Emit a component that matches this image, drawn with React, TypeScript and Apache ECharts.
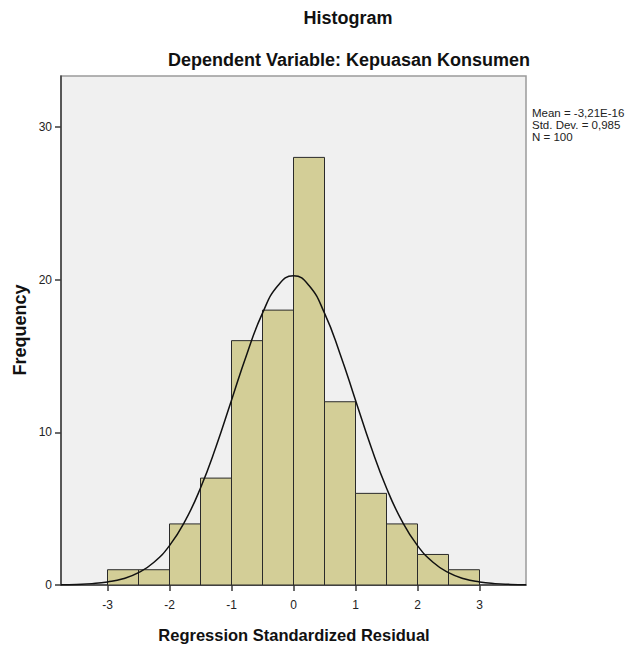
import React, { useEffect, useRef } from "react";
import * as echarts from "echarts";

const binStarts = [-3, -2.5, -2, -1.5, -1, -0.5, 0, 0.5, 1, 1.5, 2, 2.5];
const binWidth = 0.5;
const frequencies = [1, 1, 4, 7, 16, 18, 28, 12, 6, 4, 2, 1];

const curveX = [-3.75, -3.5, -3.25, -3, -2.75, -2.5, -2.25, -2, -1.75, -1.5, -1.25, -1, -0.75, -0.5, -0.25, 0, 0.25, 0.5, 0.75, 1, 1.25, 1.5, 1.75, 2, 2.25, 2.5, 2.75, 3, 3.25, 3.5, 3.75];
const curveY = [0.01, 0.04, 0.09, 0.2, 0.41, 0.81, 1.49, 2.58, 4.18, 6.35, 9.05, 12.1, 15.15, 17.8, 19.61, 20.25, 19.61, 17.8, 15.15, 12.1, 9.05, 6.35, 4.18, 2.58, 1.49, 0.81, 0.41, 0.2, 0.09, 0.04, 0.01];

const xTicks = [-3, -2, -1, 0, 1, 2, 3];
const yTicks = [0, 10, 20, 30];

const statsLines = ["Mean = -3,21E-16", "Std. Dev. = 0,985", "N = 100"];

export default function App() {
  const ref = useRef<HTMLDivElement>(null);
  useEffect(() => {
    if (!ref.current) return;
    const chart = echarts.init(ref.current, null, { renderer: "svg" });
    const font = "'Liberation Sans', Arial, sans-serif";
    chart.setOption({
      animation: false,
      backgroundColor: "#ffffff",
      grid: {
        left: 61,
        top: 76,
        width: 465,
        height: 509,
        show: true,
        backgroundColor: "#f0f0f0",
        borderColor: "#9a9a9a",
        borderWidth: 1.5,
      },
      xAxis: {
        type: "value",
        min: -3.75,
        max: 3.75,
        splitLine: { show: false },
        axisLine: { show: true, onZero: false, lineStyle: { color: "#3a3a3a", width: 1.5 } },
        axisTick: { show: true, length: 6, customValues: xTicks, lineStyle: { color: "#3a3a3a", width: 1.5 } },
        axisLabel: { customValues: xTicks, color: "#222", fontSize: 12, fontFamily: font, margin: 14 },
      },
      yAxis: {
        type: "value",
        min: 0,
        max: 33.33,
        splitLine: { show: false },
        axisLine: { show: true, onZero: false, lineStyle: { color: "#3a3a3a", width: 1.5 } },
        axisTick: { show: true, length: 6, customValues: yTicks, lineStyle: { color: "#3a3a3a", width: 1.5 } },
        axisLabel: { customValues: yTicks, color: "#222", fontSize: 12, fontFamily: font, margin: 9 },
      },
      series: [
        {
          type: "custom",
          data: binStarts.map((s, i) => [s, s + binWidth, frequencies[i]]),
          encode: { x: [0, 1], y: 2 },
          renderItem: (params: any, api: any) => {
            const p0 = api.coord([api.value(0), api.value(2)]);
            const p1 = api.coord([api.value(1), 0]);
            return {
              type: "rect",
              shape: { x: p0[0], y: p0[1], width: p1[0] - p0[0], height: p1[1] - p0[1] },
              style: { fill: "#d3ce97", stroke: "#2a2a2a", lineWidth: 1 },
            };
          },
          z: 2,
        },
        {
          type: "line",
          data: curveX.map((x, i) => [x, curveY[i]]),
          smooth: true,
          showSymbol: false,
          symbol: "none",
          lineStyle: { color: "#111", width: 1.5 },
          z: 3,
        },
      ],
      graphic: [
        {
          type: "text",
          x: 348,
          y: 18,
          style: { text: "Histogram", font: `bold 18px ${font}`, fill: "#111", textAlign: "center", textVerticalAlign: "middle" },
        },
        {
          type: "text",
          x: 349,
          y: 60,
          style: { text: "Dependent Variable: Kepuasan Konsumen", font: `bold 18px ${font}`, fill: "#111", textAlign: "center", textVerticalAlign: "middle" },
        },
        {
          type: "text",
          x: 294,
          y: 635,
          style: { text: "Regression Standardized Residual", font: `bold 16.5px ${font}`, fill: "#111", textAlign: "center", textVerticalAlign: "middle" },
        },
        {
          type: "text",
          x: 20,
          y: 330,
          rotation: Math.PI / 2,
          style: { text: "Frequency", font: `bold 18px ${font}`, fill: "#111", textAlign: "center", textVerticalAlign: "middle" },
        },
        {
          type: "text",
          x: 532,
          y: 107,
          style: { text: statsLines.join("\n"), font: `11.5px ${font}`, lineHeight: 12, fill: "#222", textAlign: "left", textVerticalAlign: "top" },
        },
      ],
    });
    return () => chart.dispose();
  }, []);
  return <div ref={ref} style={{ position: "absolute", left: 0, top: 0, width: 631, height: 652 }} />;
}
